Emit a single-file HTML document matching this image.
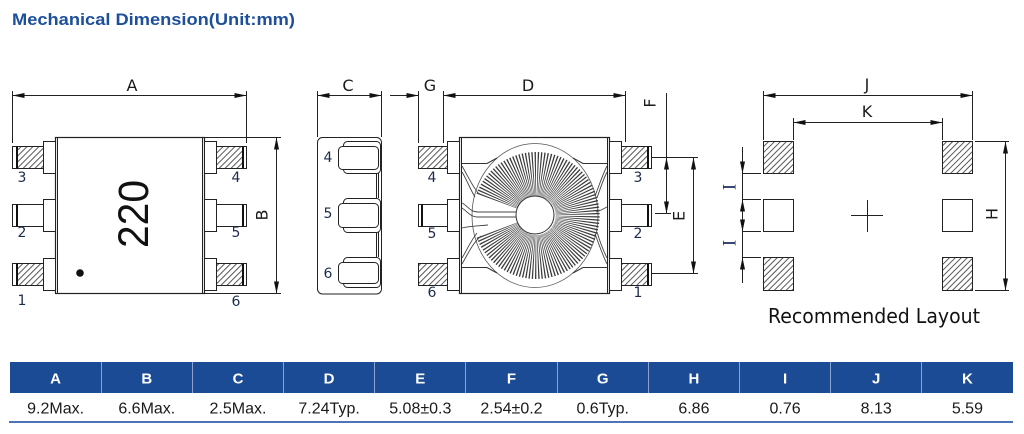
<!DOCTYPE html>
<html><head><meta charset="utf-8">
<style>
html,body{margin:0;padding:0;background:#fff;}
body{width:1024px;height:434px;overflow:hidden;position:relative;}
svg{position:absolute;left:0;top:0;}
</style></head><body>
<svg width="1024" height="434" viewBox="0 0 1024 434" xmlns="http://www.w3.org/2000/svg">
<defs>
<marker id="ar" viewBox="0 0 12 5" refX="12" refY="2.5" markerWidth="12" markerHeight="5" markerUnits="userSpaceOnUse" orient="auto-start-reverse"><path d="M0,0 L12,2.5 L0,5z" fill="#111"/></marker>
<pattern id="hp" width="4.2" height="4.2" patternUnits="userSpaceOnUse" patternTransform="rotate(45)"><line x1="1" y1="0" x2="1" y2="4.2" stroke="#444" stroke-width="0.9"/></pattern>
</defs>

<!-- Title -->
<text x="12" y="25" font-family="Liberation Sans, sans-serif" font-weight="bold" font-size="16.5" fill="#1d4f9c" textLength="283" lengthAdjust="spacingAndGlyphs">Mechanical Dimension(Unit:mm)</text>

<g font-family="DejaVu Sans, sans-serif" fill="#1a1a1a" font-size="16" text-anchor="middle">
  <text x="132" y="91">A</text>
  <text x="348" y="91">C</text>
  <text x="430" y="91">G</text>
  <text x="528" y="91">D</text>
  <text x="867" y="90">J</text>
  <text x="867" y="117">K</text>
  <text transform="translate(262,215) rotate(-90)" dominant-baseline="central">B</text>
  <text transform="translate(650,103) rotate(-90)" dominant-baseline="central">F</text>
  <text transform="translate(679,216) rotate(-90)" dominant-baseline="central">E</text>
  <text transform="translate(992,214) rotate(-90)" dominant-baseline="central">H</text>
</g>
<g font-family="Liberation Serif, serif" fill="#1c2c5c" font-size="19" text-anchor="middle">
  <text transform="translate(730,187) rotate(-90)" dominant-baseline="central">I</text>
  <text transform="translate(730,243) rotate(-90)" dominant-baseline="central">I</text>
</g>

<g stroke="#222" stroke-width="1" fill="none">
  <!-- ===== View 1 ===== -->
  <path d="M12.5,91 V143 M246.5,91 V143"/>
  <line x1="12.5" y1="95.5" x2="246.5" y2="95.5" marker-start="url(#ar)" marker-end="url(#ar)"/>
  <path d="M205,137.5 H281 M205,293.5 H281"/>
  <line x1="276.5" y1="137.5" x2="276.5" y2="293.5" marker-start="url(#ar)" marker-end="url(#ar)"/>
  <rect x="55.5" y="137.5" width="149" height="156" fill="#fff" stroke-width="1.2"/>
  <path d="M57.5,137.5 V293.5 M202.5,137.5 V293.5"/>
  <rect x="43.5" y="141.5" width="12" height="32" fill="#fff"/>
  <rect x="43.5" y="199.5" width="12" height="32" fill="#fff"/>
  <rect x="43.5" y="258.5" width="12" height="32" fill="#fff"/>
  <rect x="204.5" y="141.5" width="12" height="32" fill="#fff"/>
  <rect x="204.5" y="199.5" width="12" height="32" fill="#fff"/>
  <rect x="204.5" y="258.5" width="12" height="32" fill="#fff"/>
  <rect x="17.5" y="146.5" width="26" height="22" fill="url(#hp)" stroke="none"/>
  <rect x="17.5" y="263.5" width="26" height="22" fill="url(#hp)" stroke="none"/>
  <rect x="216.5" y="146.5" width="26" height="22" fill="url(#hp)" stroke="none"/>
  <rect x="216.5" y="263.5" width="26" height="22" fill="url(#hp)" stroke="none"/>
  <rect x="12.5" y="146.5" width="31" height="22"/>
  <rect x="12.5" y="204.5" width="31" height="22"/>
  <rect x="12.5" y="263.5" width="31" height="22"/>
  <rect x="216.5" y="146.5" width="30" height="22"/>
  <rect x="216.5" y="204.5" width="30" height="22"/>
  <rect x="216.5" y="263.5" width="30" height="22"/>
  <path d="M17,146.5 V168.5 M17,204.5 V226.5 M17,263.5 V285.5 M243,146.5 V168.5 M243,204.5 V226.5 M243,263.5 V285.5" stroke="#111" stroke-width="2"/>

  <!-- ===== View 2 (side) ===== -->
  <path d="M317.5,91 V137 M381.5,91 V137"/>
  <line x1="317.5" y1="95.5" x2="381.5" y2="95.5" marker-start="url(#ar)" marker-end="url(#ar)"/>
  <rect x="317.5" y="137.5" width="64" height="156.5" rx="5" fill="#fff"/>
  <path d="M376.5,173 V198 M378.5,173 V198 M376.5,232 V257 M378.5,232 V257"/>
  <rect x="343.5" y="141.5" width="37" height="32" rx="4" fill="#fff"/>
  <rect x="338.5" y="146.5" width="40" height="23" rx="4" fill="#fff"/>
  <rect x="343.5" y="198.5" width="37" height="34" rx="4" fill="#fff"/>
  <rect x="338.5" y="203.5" width="40" height="24" rx="4" fill="#fff"/>
  <rect x="343.5" y="257.5" width="37" height="30" rx="4" fill="#fff"/>
  <rect x="338.5" y="262.5" width="40" height="21" rx="4" fill="#fff"/>

  <!-- ===== View 3 ===== -->
  <path d="M418.5,91 V143 M443.5,91 V143 M625.5,91 V142"/>
  <line x1="390" y1="95.5" x2="418.5" y2="95.5" marker-end="url(#ar)"/>
  <line x1="443.5" y1="95.5" x2="625.5" y2="95.5" marker-start="url(#ar)" marker-end="url(#ar)"/>
  <rect x="459.5" y="137.5" width="150" height="156" fill="#fff" stroke-width="1.2"/>
  <path d="M461.5,137.5 V293.5 M607.5,137.5 V293.5"/>
  <rect x="447.5" y="141.5" width="12" height="32" fill="#fff"/>
  <rect x="447.5" y="199.5" width="12" height="32" fill="#fff"/>
  <rect x="447.5" y="258.5" width="12" height="32" fill="#fff"/>
  <rect x="609.5" y="141.5" width="12" height="32" fill="#fff"/>
  <rect x="609.5" y="199.5" width="12" height="32" fill="#fff"/>
  <rect x="609.5" y="258.5" width="12" height="32" fill="#fff"/>
  <rect x="418.5" y="146.5" width="29" height="22" fill="url(#hp)"/>
  <rect x="418.5" y="204.5" width="29" height="22" fill="#fff"/>
  <rect x="418.5" y="263.5" width="29" height="22" fill="url(#hp)"/>
  <rect x="621.5" y="146.5" width="26" height="22" fill="url(#hp)" stroke="none"/>
  <rect x="621.5" y="263.5" width="26" height="22" fill="url(#hp)" stroke="none"/>
  <rect x="621.5" y="146.5" width="30" height="22"/>
  <rect x="621.5" y="204.5" width="30" height="22"/>
  <rect x="621.5" y="263.5" width="30" height="22"/>
  <path d="M422,204.5 V226.5 M648,146.5 V168.5 M648,204.5 V226.5 M648,263.5 V285.5" stroke="#111" stroke-width="2"/>

  <!-- toroid -->
  <ellipse cx="535" cy="215.5" rx="63" ry="72" stroke="#555" stroke-width="0.8"/>
  <path d="M462,163.5 H487 L497,158 M607,163.5 H583 L573,158 M462,267.5 H487 L497,273 M607,267.5 H583 L573,273" stroke="#333"/>
  <path d="M497.2,201.2 A41.5,41.5 0 1 1 497.2,229.8" stroke="#3a3a3a" stroke-width="44" stroke-dasharray="0.9 1.25"/>
  <circle cx="535" cy="215" r="19" fill="#fff" stroke="#333"/>
  <g stroke="#444" stroke-width="0.9">
    <path d="M462,166 C468,176 472,186 479,194"/>
    <path d="M462,172 C467,180 470,189 475,197"/>
    <path d="M462,203 C468,206 470,212 478,212 L516,212"/>
    <path d="M462,208 C467,211 470,217 478,217 L516,217"/>
    <path d="M462,228 C470,226 478,226 488,225"/>
    <path d="M462,264 C468,254 472,244 481,236"/>
    <path d="M462,258 C467,250 470,242 477,233"/>
    <path d="M607,166 C602,176 599,186 595,196"/>
    <path d="M607,172 C603,180 600,189 597,198"/>
    <path d="M607,207 C603,209 600,211 596,212"/>
    <path d="M607,264 C602,254 599,244 595,234"/>
    <path d="M607,258 C603,250 600,242 597,232"/>
  </g>

  <!-- F / E dims -->
  <path d="M666.5,93 V157.5"/>
  <line x1="666.5" y1="213.5" x2="666.5" y2="157.5" marker-start="url(#ar)" marker-end="url(#ar)"/>
  <path d="M652,157.5 H698 M655,213.5 H671 M652,273.5 H698"/>
  <line x1="693.5" y1="157.5" x2="693.5" y2="273.5" marker-start="url(#ar)" marker-end="url(#ar)"/>

  <!-- ===== Layout ===== -->
  <path d="M763.5,91 V140 M972.5,91 V140 M793.5,118 V140 M942.5,118 V140"/>
  <line x1="763.5" y1="95.5" x2="972.5" y2="95.5" marker-start="url(#ar)" marker-end="url(#ar)"/>
  <line x1="793.5" y1="122.5" x2="942.5" y2="122.5" marker-start="url(#ar)" marker-end="url(#ar)"/>
  <rect x="763.5" y="141.5" width="30" height="32" fill="url(#hp)"/>
  <rect x="763.5" y="199.5" width="30" height="32" fill="#fff"/>
  <rect x="763.5" y="257.5" width="30" height="33" fill="url(#hp)"/>
  <rect x="942.5" y="141.5" width="30" height="32" fill="url(#hp)"/>
  <rect x="942.5" y="199.5" width="30" height="32" fill="#fff"/>
  <rect x="942.5" y="257.5" width="30" height="33" fill="url(#hp)"/>
  <path d="M851,215.5 H883 M867.5,200 V232"/>
  <path d="M975,141.5 H1009 M975,290.5 H1009"/>
  <line x1="1005.5" y1="141.5" x2="1005.5" y2="290.5" marker-start="url(#ar)" marker-end="url(#ar)"/>
  <path d="M742.5,147 V283"/>
  <path d="M742,173.5 H761 M742,199.5 H761 M742,231.5 H761 M742,257.5 H761"/>
  <line x1="742.5" y1="160" x2="742.5" y2="173.5" marker-end="url(#ar)"/>
  <line x1="742.5" y1="212" x2="742.5" y2="199.5" marker-end="url(#ar)"/>
  <line x1="742.5" y1="218" x2="742.5" y2="231.5" marker-end="url(#ar)"/>
  <line x1="742.5" y1="270" x2="742.5" y2="257.5" marker-end="url(#ar)"/>
</g>

<circle cx="80" cy="273" r="3.8" fill="#111"/>
<text transform="translate(134,214) rotate(-90)" text-anchor="middle" dominant-baseline="central" font-family="Liberation Sans, sans-serif" font-size="43" fill="#111" textLength="68" lengthAdjust="spacingAndGlyphs">220</text>

<!-- pin numbers -->
<g font-family="DejaVu Sans, sans-serif" font-size="14" fill="#1c2c4c" text-anchor="middle">
  <text x="22" y="182">3</text>
  <text x="22" y="237">2</text>
  <text x="22" y="305">1</text>
  <text x="236" y="182">4</text>
  <text x="236" y="237">5</text>
  <text x="236" y="306">6</text>
  <text x="328" y="162">4</text>
  <text x="328" y="218">5</text>
  <text x="328" y="278">6</text>
  <text x="432" y="182">4</text>
  <text x="432" y="238">5</text>
  <text x="432" y="297">6</text>
  <text x="638" y="182">3</text>
  <text x="638" y="238">2</text>
  <text x="638" y="297">1</text>
</g>

<text x="768" y="323" font-family="DejaVu Sans, sans-serif" font-size="20" fill="#111" textLength="212" lengthAdjust="spacingAndGlyphs">Recommended Layout</text>

<!-- Table -->
<rect x="10" y="362" width="1003" height="31" fill="#1c4b96"/>
<g stroke="#8aa3d0" stroke-width="1">
  <path d="M101.5,362 V393 M192.5,362 V393 M283.5,362 V393 M374.5,362 V393 M465.5,362 V393 M557.5,362 V393 M648.5,362 V393 M739.5,362 V393 M830.5,362 V393 M921.5,362 V393"/>
</g>
<line x1="9" y1="422" x2="1013" y2="422" stroke="#4d75b6" stroke-width="2"/>
<g font-family="Liberation Sans, sans-serif" font-size="15" font-weight="bold" fill="#fff" text-anchor="middle">
  <text x="55.6" y="383.5">A</text>
  <text x="146.8" y="383.5">B</text>
  <text x="238" y="383.5">C</text>
  <text x="329.1" y="383.5">D</text>
  <text x="420.3" y="383.5">E</text>
  <text x="511.5" y="383.5">F</text>
  <text x="602.7" y="383.5">G</text>
  <text x="693.9" y="383.5">H</text>
  <text x="785.1" y="383.5">I</text>
  <text x="876.2" y="383.5">J</text>
  <text x="967.4" y="383.5">K</text>
</g>
<g font-family="Liberation Sans, sans-serif" font-size="16" fill="#1a1a1a" text-anchor="middle">
  <text x="55.6" y="413.5">9.2Max.</text>
  <text x="146.8" y="413.5">6.6Max.</text>
  <text x="238" y="413.5">2.5Max.</text>
  <text x="329.1" y="413.5">7.24Typ.</text>
  <text x="420.3" y="413.5">5.08±0.3</text>
  <text x="511.5" y="413.5">2.54±0.2</text>
  <text x="602.7" y="413.5">0.6Typ.</text>
  <text x="693.9" y="413.5">6.86</text>
  <text x="785.1" y="413.5">0.76</text>
  <text x="876.2" y="413.5">8.13</text>
  <text x="967.4" y="413.5">5.59</text>
</g>
</svg>
</body></html>
